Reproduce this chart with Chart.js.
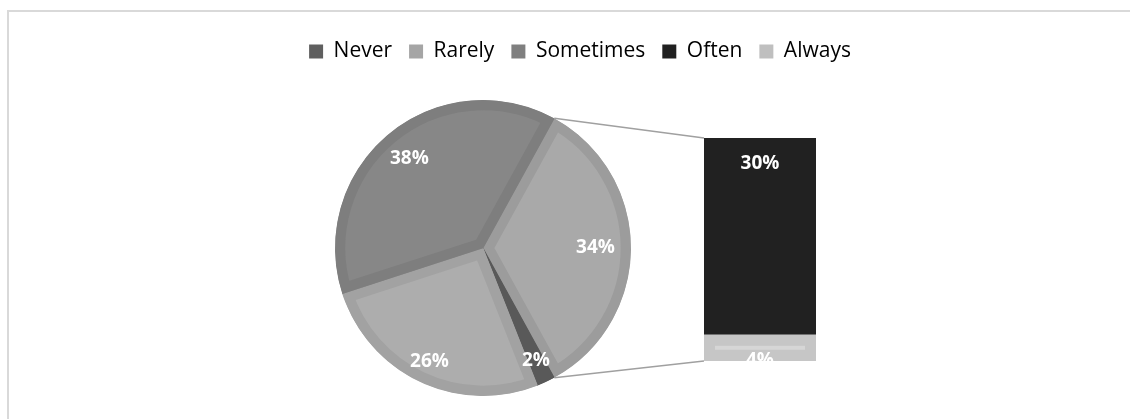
<!DOCTYPE html>
<html lang="en">
<head>
<meta charset="UTF-8">
<title>How often - pie with breakdown bar</title>
<script src="https://cdn.jsdelivr.net/npm/chart.js@4"></script>
<style>
  body { margin: 0; background: #fff; }
  .wrap { position: relative; width: 1130px; height: 419px; overflow: hidden; }
  /* light frame around the chart, open to the right and bottom */
  .frame { position: absolute; left: 7px; top: 10px; right: -20px; bottom: -20px;
           border-top: 2px solid #d9d9d9; border-left: 2px solid #d9d9d9; }
  #pieBox { position: absolute; left: 0; top: 0; width: 1130px; height: 419px; }
  #barBox { position: absolute; left: 704px; top: 138px; width: 112px; height: 223px; }
</style>
</head>
<body>
<div class="wrap">
  <div class="frame"></div>
  <div id="pieBox"><canvas id="pieChart"></canvas></div>
  <div id="barBox"><canvas id="barChart"></canvas></div>
</div>

<script>
// Legend entries, in display order
const legendLabels = ['Never', 'Rarely', 'Sometimes', 'Often', 'Always'];
const legendColors = ['#5f5f5f', '#a5a5a5', '#7f7f7f', '#202020', '#bfbfbf'];

// Answers kept in the pie (percent)
const keptLabels = ['Never', 'Rarely', 'Sometimes'];
const keptValues = [2, 26, 38];

// Answers split out into the bar, bottom to top (percent)
const barLabels = ['Always', 'Often'];
const barValues = [4, 30];

const otherValue = barValues.reduce((a, b) => a + b, 0);
const pieLabels = ['Other', ...keptLabels];
const pieValues = [otherValue, ...keptValues];
const pieTotal = pieValues.reduce((a, b) => a + b, 0);

const pieFill   = ['#a9a9a9', '#595959', '#adadad', '#878787'];
const pieBorder = ['#9c9c9c', '#595959', '#a2a2a2', '#7e7e7e'];
const barFill   = ['#c6c6c6', '#212121'];

const labelFont = 'bold 19px "Open Sans"';

let barChart = null;
const barBox = document.getElementById('barBox');

// white percentage labels inside the pie slices
const pieLabelPlugin = {
  id: 'pieLabels',
  afterDatasetsDraw(chart, args, opts) {
    const ctx = chart.ctx;
    const data = chart.data.datasets[0].data;
    ctx.save();
    ctx.font = labelFont;
    ctx.fillStyle = '#ffffff';
    ctx.textAlign = 'center';
    ctx.textBaseline = 'middle';
    chart.getDatasetMeta(0).data.forEach((arc, i) => {
      const p = arc.getProps(['x', 'y', 'startAngle', 'endAngle', 'outerRadius'], true);
      const mid = (p.startAngle + p.endAngle) / 2;
      const r = p.outerRadius * opts.radius[i];
      ctx.fillText(Math.round(data[i] / pieTotal * 100) + '%', p.x + Math.cos(mid) * r, p.y + Math.sin(mid) * r);
    });
    ctx.restore();
  }
};

// lines from the split-out slice to the top and bottom of the bar
const connectorPlugin = {
  id: 'connectors',
  afterDraw(chart) {
    if (!barChart) return;
    const p = chart.getDatasetMeta(0).data[0].getProps(['x', 'y', 'startAngle', 'endAngle', 'outerRadius'], true);
    const bottomEl = barChart.getDatasetMeta(0).data[0];
    const topEl = barChart.getDatasetMeta(barValues.length - 1).data[0];
    const bx = barBox.offsetLeft + bottomEl.x - bottomEl.width / 2;
    const by1 = barBox.offsetTop + topEl.y;
    const by2 = barBox.offsetTop + bottomEl.base;
    const ctx = chart.ctx;
    ctx.save();
    ctx.strokeStyle = '#a0a0a0';
    ctx.lineWidth = 1.5;
    ctx.beginPath();
    ctx.moveTo(p.x + Math.cos(p.startAngle) * p.outerRadius, p.y + Math.sin(p.startAngle) * p.outerRadius);
    ctx.lineTo(bx, by1);
    ctx.moveTo(p.x + Math.cos(p.endAngle) * p.outerRadius, p.y + Math.sin(p.endAngle) * p.outerRadius);
    ctx.lineTo(bx, by2);
    ctx.stroke();
    ctx.restore();
  }
};

// extra room under the legend, and legend centred on the whole frame
const legendSpacing = {
  id: 'legendSpacing',
  beforeInit(chart, args, opts) {
    const fit = chart.legend.fit;
    chart.legend.fit = function () {
      fit.call(this);
      this.height += opts.extra;
    };
  },
  afterLayout(chart, args, opts) {
    chart.legend.left = opts.left;
    chart.legend.right = opts.right;
  }
};

// percentage labels near the top of each bar segment
const barLabelPlugin = {
  id: 'barLabels',
  afterDatasetsDraw(chart) {
    const ctx = chart.ctx;
    ctx.save();
    // light inner edge along the top of the bottom segment
    const low = chart.getDatasetMeta(0).data[0];
    ctx.fillStyle = '#d6d6d6';
    ctx.fillRect(low.x - low.width / 2 + 11, low.y + 11, low.width - 22, 4);

    ctx.font = labelFont;
    ctx.fillStyle = '#ffffff';
    ctx.textAlign = 'center';
    ctx.textBaseline = 'middle';
    chart.data.datasets.forEach((ds, i) => {
      const el = chart.getDatasetMeta(i).data[0];
      ctx.fillText(ds.data[0] + '%', el.x, el.y + 26);
    });
    ctx.restore();
  }
};

barChart = new Chart(document.getElementById('barChart'), {
  type: 'bar',
  data: {
    labels: ['Other'],
    datasets: barLabels.map((name, i) => ({
      label: name,
      data: [barValues[i]],
      backgroundColor: barFill[i],
      borderWidth: 0,
      barPercentage: 1,
      categoryPercentage: 1
    }))
  },
  options: {
    responsive: true,
    maintainAspectRatio: false,
    animation: false,
    events: [],
    layout: { padding: 0 },
    scales: {
      x: { stacked: true, display: false },
      y: { stacked: true, display: false, min: 0, max: otherValue }
    },
    plugins: { legend: { display: false }, tooltip: { enabled: false } }
  },
  plugins: [barLabelPlugin]
});

new Chart(document.getElementById('pieChart'), {
  type: 'pie',
  data: {
    labels: pieLabels,
    datasets: [{
      data: pieValues,
      backgroundColor: pieFill,
      borderColor: pieBorder,
      borderWidth: 10,
      borderAlign: 'inner'
    }]
  },
  options: {
    responsive: true,
    maintainAspectRatio: false,
    animation: false,
    events: [],
    // the split-out slice is centred on the right-hand side
    rotation: 90 - otherValue / pieTotal * 180,
    layout: { padding: { left: 0, right: 164, top: 24, bottom: 23 } },
    plugins: {
      legend: {
        position: 'top',
        labels: {
          color: '#595959',
          font: { family: 'Open Sans', size: 21 },
          boxWidth: 14,
          boxHeight: 14,
          padding: 17,
          generateLabels: () => legendLabels.map((text, i) => ({
            text,
            fillStyle: legendColors[i],
            strokeStyle: legendColors[i],
            lineWidth: 0,
            hidden: false,
            index: i
          }))
        }
      },
      tooltip: { enabled: false },
      pieLabels: { radius: [0.76, 0.84, 0.85, 0.78] },
      legendSpacing: { extra: 28, left: 30, right: 1130 }
    }
  },
  plugins: [legendSpacing, pieLabelPlugin, connectorPlugin]
});
</script>
</body>
</html>
